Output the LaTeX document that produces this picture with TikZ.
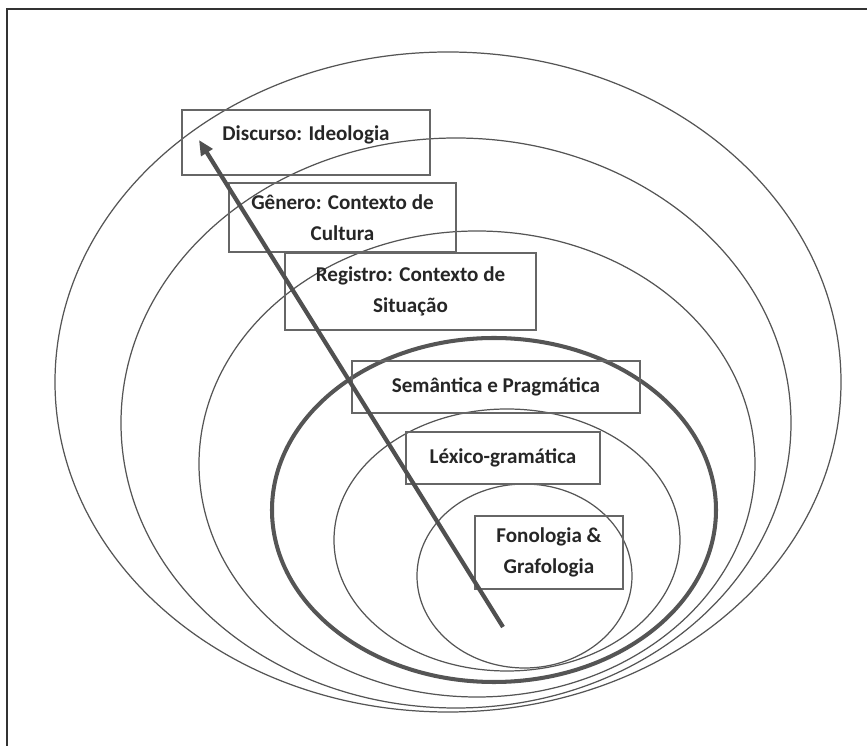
\documentclass[tikz,border=0pt]{standalone}
\usepackage{fontspec}
\setmainfont{Carlito}
\usepackage[svgnames]{xcolor}
\usepackage{tkz-euclide}
\usepackage{tikz}
\usetikzlibrary{arrows.meta}

\definecolor{ringgray}{HTML}{555555}
\definecolor{boxgray}{HTML}{666666}
\definecolor{arrowgray}{HTML}{505050}

\begin{document}
\begin{tikzpicture}[x=0.02cm,y=-0.02cm,
        ring/.style={draw=ringgray,line width=0.7pt},
        mainring/.style={draw=ringgray,line width=2.3pt},
        level/.style={draw=boxgray,line width=0.9pt,inner sep=0pt,align=center,
            font=\bfseries\fontsize{12}{17.6}\selectfont,text=black!85}]

        \useasboundingbox (0,0) rectangle (867,746);

        % frame (only top and left survive the crop)
        \draw[black!80,line width=1.1pt] (867,9) -- (7,9) -- (7,746);

        % centres of the rings
        \tkzDefPoint(448,382){O1}
        \tkzDefPoint(456,423){O2}
        \tkzDefPoint(477,464){O3}
        \tkzDefPoint(494,510){O4}
        \tkzDefPoint(507,540){O5}
        \tkzDefPoint(524.5,576){O6}

        \draw[ring] (O1) ellipse [x radius=393,y radius=330];
        \draw[ring] (O2) ellipse [x radius=335,y radius=285];
        \draw[ring] (O3) ellipse [x radius=278,y radius=233];
        \draw[mainring] (O4) ellipse [x radius=222,y radius=172];
        \draw[ring] (O5) ellipse [x radius=173,y radius=131];
        \draw[ring] (O6) ellipse [x radius=107.5,y radius=92];

        % \draw[ring,rotate around={-8:(O1)}] (O1) ellipse [x radius=393,y radius=330];

        \node[level,minimum width=4.96cm,minimum height=1.30cm] (disc) at (306,142.5)
            {Discurso: Ideologia\\[-7pt]~};
        \node[level,minimum width=4.54cm,minimum height=1.38cm] (gen) at (342.5,217.5)
            {Gênero: Contexto de\\Cultura};
        \node[level,minimum width=5.02cm,minimum height=1.54cm] (reg) at (410.5,291.5)
            {Registro: Contexto de\\Situação};
        \node[level,minimum width=5.76cm,minimum height=1.04cm] (sem) at (496,387)
            {Semântica e Pragmática};
        \node[level,minimum width=3.88cm,minimum height=1.04cm] (lex) at (503,458)
            {Léxico-gramática};
        \node[level,minimum width=2.96cm,minimum height=1.46cm] (fon) at (549,552.5)
            {Fonologia \&\\Grafologia};

        \tkzDefPoint(503,627){S}
        \tkzDefPoint(199,140){T}
        \draw[arrowgray,line width=2.4pt,-{Triangle[length=0.3cm,width=0.26cm]}] (S) -- (T);
    \end{tikzpicture}
\end{document}
